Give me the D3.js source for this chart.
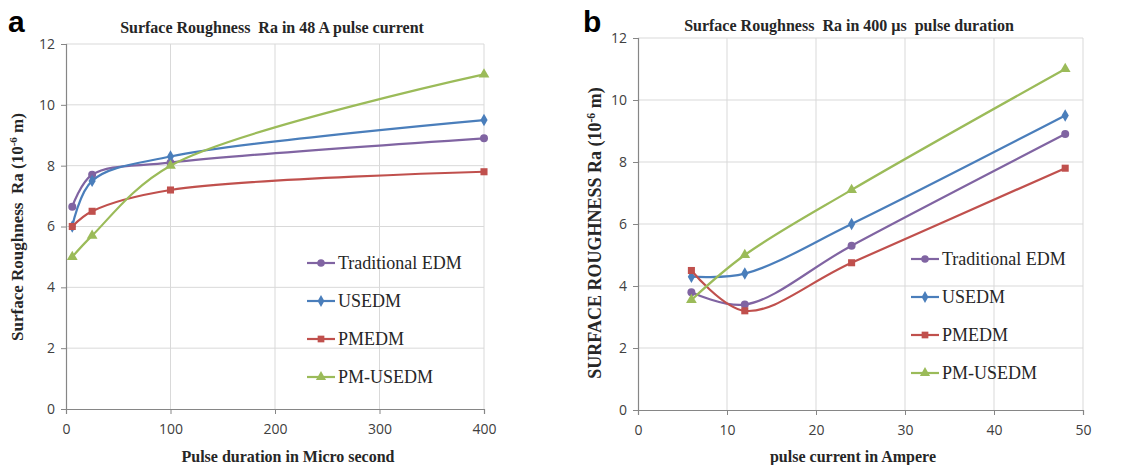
<!DOCTYPE html>
<html>
<head>
<meta charset="utf-8">
<script src="https://cdn.jsdelivr.net/npm/d3@7"></script>
<style>
  body { margin: 0; background: #fff; }
  svg { display: block; }
</style>
</head>
<body>
<svg id="chart" width="1148" height="465"></svg>
<script>
// values
const durations = [6, 25, 100, 400];
const currents = [6, 12, 24, 48];

const seriesNames = ["Traditional EDM", "USEDM", "PMEDM", "PM-USEDM"];
const seriesColors = ["#8064a2", "#4a7ebb", "#c0504d", "#9bbb59"];
const seriesSymbols = [d3.symbolCircle, d3.symbolDiamond, d3.symbolSquare, d3.symbolTriangle];

const tradEdmByDuration = [6.65, 7.7, 8.1, 8.9];
const usedmByDuration = [6.0, 7.5, 8.3, 9.5];
const pmedmByDuration = [6.0, 6.5, 7.2, 7.8];
const pmUsedmByDuration = [5.0, 5.7, 8.0, 11.0];

const tradEdmByCurrent = [3.8, 3.4, 5.3, 8.9];
const usedmByCurrent = [4.3, 4.4, 6.0, 9.5];
const pmedmByCurrent = [4.5, 3.2, 4.75, 7.8];
const pmUsedmByCurrent = [3.55, 5.0, 7.1, 11.0];

const yTicks = [0, 2, 4, 6, 8, 10, 12];
const durationTicks = [0, 100, 200, 300, 400];
const currentTicks = [0, 10, 20, 30, 40, 50];

const svg = d3.select("#chart");

function drawPanel(cfg) {
    const g = svg.append("g");

    const x = d3.scaleLinear().domain(cfg.xDomain).range([cfg.left, cfg.right]);
    const y = d3.scaleLinear().domain([0, 12]).range([cfg.bottom, cfg.top]);

    // grid
    g.append("g")
        .selectAll("line.h")
        .data(yTicks.slice(1))
        .enter()
        .append("line")
        .attr("x1", cfg.left).attr("x2", cfg.right)
        .attr("y1", d => y(d)).attr("y2", d => y(d))
        .attr("stroke", "#d9d9d9");

    g.append("g")
        .selectAll("line.v")
        .data(cfg.xTicks.slice(1))
        .enter()
        .append("line")
        .attr("x1", d => x(d)).attr("x2", d => x(d))
        .attr("y1", cfg.top).attr("y2", cfg.bottom)
        .attr("stroke", "#d9d9d9");

    // axes
    const xAxis = g.append("g")
        .attr("transform", "translate(0," + cfg.bottom + ")")
        .call(d3.axisBottom(x).tickValues(cfg.xTicks).tickSize(5).tickPadding(10));
    const yAxis = g.append("g")
        .attr("transform", "translate(" + cfg.left + ",0)")
        .call(d3.axisLeft(y).tickValues(yTicks).tickSize(5).tickPadding(6));

    [xAxis, yAxis].forEach(ax => {
        ax.select(".domain").attr("stroke", "#868686").attr("stroke-width", 1.2);
        ax.selectAll(".tick line").attr("stroke", "#868686");
        ax.selectAll("text")
            .attr("font-family", "'Open Sans', sans-serif")
            .attr("font-size", 14)
            .attr("fill", "#404040");
    });

    // series
    const line = d3.line()
        .x(d => x(d[0]))
        .y(d => y(d[1]))
        .curve(d3.curveCatmullRom.alpha(0.5));

    cfg.series.forEach((vals, i) => {
        const pts = cfg.xs.map((xv, j) => [xv, vals[j]]);
        g.append("path")
            .attr("d", line(pts))
            .attr("fill", "none")
            .attr("stroke", seriesColors[i])
            .attr("stroke-width", 2.2);

        g.append("g")
            .selectAll("path")
            .data(pts)
            .enter()
            .append("path")
            .attr("transform", d => "translate(" + x(d[0]) + "," + y(d[1]) + ")")
            .attr("d", d3.symbol().type(seriesSymbols[i]).size(i === 1 ? 45 : 50))
            .attr("fill", seriesColors[i]);
    });

    // legend
    cfg.legendY.forEach((ly, i) => {
        g.append("line")
            .attr("x1", cfg.legendX).attr("x2", cfg.legendX + 28)
            .attr("y1", ly).attr("y2", ly)
            .attr("stroke", seriesColors[i])
            .attr("stroke-width", 2.2);
        g.append("path")
            .attr("transform", "translate(" + (cfg.legendX + 14) + "," + ly + ")")
            .attr("d", d3.symbol().type(seriesSymbols[i]).size(i === 1 ? 40 : 45))
            .attr("fill", seriesColors[i]);
        g.append("text")
            .attr("x", cfg.legendX + 31)
            .attr("y", ly + 6)
            .attr("font-family", "'Liberation Serif', serif")
            .attr("font-size", 18)
            .attr("fill", "#262626")
            .text(seriesNames[i]);
    });

    // title
    g.append("text")
        .attr("x", cfg.titleX)
        .attr("y", cfg.titleY)
        .attr("text-anchor", "middle")
        .attr("font-family", "'Liberation Serif', serif")
        .attr("font-weight", "bold")
        .attr("font-size", 16)
        .attr("fill", "#262626")
        .attr("xml:space", "preserve")
        .text(cfg.title);

    // x label
    g.append("text")
        .attr("x", cfg.xLabelX)
        .attr("y", 462)
        .attr("text-anchor", "middle")
        .attr("font-family", "'Liberation Serif', serif")
        .attr("font-weight", "bold")
        .attr("font-size", 16)
        .attr("fill", "#262626")
        .text(cfg.xLabel);

    // y label with superscript
    const yl = g.append("text")
        .attr("transform", "translate(" + cfg.yLabelX + "," + cfg.yLabelY + ") rotate(-90)")
        .attr("text-anchor", "middle")
        .attr("font-family", "'Liberation Serif', serif")
        .attr("font-weight", "bold")
        .attr("font-size", cfg.yLabelSize)
        .attr("fill", "#262626")
        .attr("xml:space", "preserve");
    yl.append("tspan").text(cfg.yLabel + " (10");
    yl.append("tspan").attr("dy", -6).attr("font-size", cfg.yLabelSize * 0.65).text("-6");
    yl.append("tspan").attr("dy", 6).text(" m)");

    // panel letter
    g.append("text")
        .attr("x", cfg.letterX)
        .attr("y", 32)
        .attr("font-family", "'Liberation Sans', Arial, sans-serif")
        .attr("font-weight", "bold")
        .attr("font-size", 30)
        .attr("fill", "#000")
        .text(cfg.letter);
}

drawPanel({
    letter: "a", letterX: 8,
    left: 66, right: 484, top: 44, bottom: 409,
    xDomain: [0, 400], xTicks: durationTicks, xs: durations,
    series: [tradEdmByDuration, usedmByDuration, pmedmByDuration, pmUsedmByDuration],
    legendX: 307, legendY: [263, 301, 339, 377],
    title: "Surface Roughness  Ra in 48 A pulse current", titleX: 272, titleY: 33,
    xLabel: "Pulse duration in Micro second", xLabelX: 288,
    yLabel: "Surface Roughness  Ra", yLabelX: 23, yLabelY: 227, yLabelSize: 17
});

drawPanel({
    letter: "b", letterX: 583,
    left: 638, right: 1083, top: 38, bottom: 410,
    xDomain: [0, 50], xTicks: currentTicks, xs: currents,
    series: [tradEdmByCurrent, usedmByCurrent, pmedmByCurrent, pmUsedmByCurrent],
    legendX: 911, legendY: [259, 297, 335, 373],
    title: "Surface Roughness  Ra in 400 \u00b5s  pulse duration", titleX: 849, titleY: 31,
    xLabel: "pulse current in Ampere", xLabelX: 853,
    yLabel: "SURFACE ROUGHNESS Ra", yLabelX: 601, yLabelY: 233, yLabelSize: 18
});
</script>
</body>
</html>
